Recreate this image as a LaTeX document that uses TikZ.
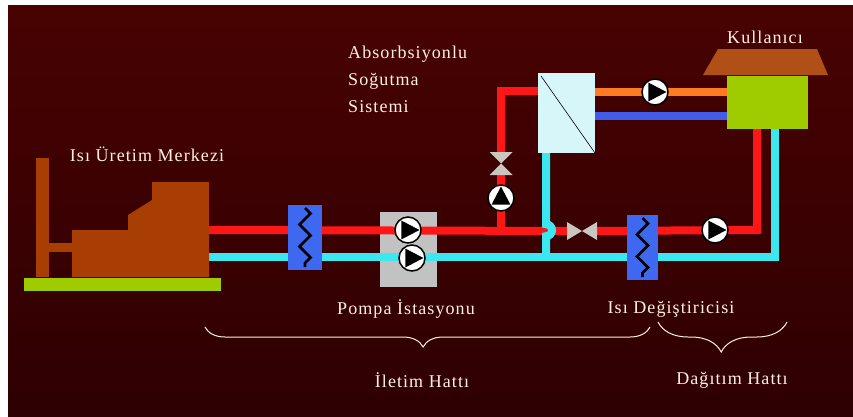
\documentclass[tikz,border=0pt]{standalone}
\usepackage{fontspec}
\setmainfont{Liberation Serif}[LetterSpace=6]
\usetikzlibrary{calc,decorations.pathreplacing,decorations.pathmorphing}
\definecolor{bgtop}{RGB}{72,2,2}
\definecolor{bgbot}{RGB}{46,0,2}
\definecolor{cream}{RGB}{255,240,226}
\definecolor{brick}{RGB}{168,62,4}
\definecolor{roofbrown}{RGB}{176,80,22}
\definecolor{lime}{RGB}{158,204,0}
\definecolor{hotred}{RGB}{255,22,22}
\definecolor{coldcyan}{RGB}{60,232,240}
\definecolor{hxblue}{RGB}{62,104,240}
\definecolor{stgray}{RGB}{194,194,194}
\definecolor{valvegray}{RGB}{200,198,190}
\definecolor{icewhite}{RGB}{214,246,250}
\definecolor{warmorange}{RGB}{255,122,32}
\definecolor{coolblue}{RGB}{64,92,232}
\pgfdeclarelayer{bg}
\pgfdeclarelayer{pipes}
\pgfsetlayers{bg,pipes,main}

\begin{document}
\begin{tikzpicture}[x=1pt,y=-1pt,
pipe/.style={line width=8pt},
hot/.style={pipe,draw=hotred},
cold/.style={pipe,draw=coldcyan},
hx/.style={fill=hxblue,minimum width=#1,minimum height=65pt,inner sep=0pt,
path picture={\draw[black,line width=2.6pt,decorate,
decoration={zigzag,segment length=22pt,amplitude=5.5pt}]
([yshift=-3pt]path picture bounding box.north)--([yshift=3pt]path picture bounding box.south);}},
pump/.style={circle,draw=black,line width=1.5pt,fill=white,minimum size=26pt,inner sep=0pt,
path picture={\fill[black]($(path picture bounding box.center)+(#1:11.5pt)$)
--($(path picture bounding box.center)+(#1+125:11.5pt)$)
--($(path picture bounding box.center)+(#1+235:11.5pt)$)--cycle;}},
pump/.default=0,
valveh/.style={minimum width=30pt,minimum height=18pt,inner sep=0pt,
path picture={\fill[valvegray](path picture bounding box.north west)--(path picture bounding box.center)
--(path picture bounding box.south west)--cycle;
\fill[valvegray](path picture bounding box.north east)--(path picture bounding box.center)
--(path picture bounding box.south east)--cycle;}},
valvev/.style={minimum width=23pt,minimum height=23pt,inner sep=0pt,
path picture={\fill[valvegray](path picture bounding box.north west)--(path picture bounding box.center)
--(path picture bounding box.north east)--cycle;
\fill[valvegray](path picture bounding box.south west)--(path picture bounding box.center)
--(path picture bounding box.south east)--cycle;}},
lbl/.style={text=cream,font=\fontsize{18}{27}\selectfont,inner sep=0pt,anchor=base},
curly/.style={draw=cream,line width=1pt,decorate,decoration={brace,mirror,amplitude=#1,aspect=.49}}]
\useasboundingbox (0,0) rectangle (853,416);
\begin{pgfonlayer}{bg}
\fill[white] (0,0) rectangle (853,416);
\shade[top color=bgtop,bottom color=bgbot] (8,5) rectangle (853,416);
% pump station housing sits under the pipes
\node[fill=stgray,minimum width=57pt,minimum height=75pt,inner sep=0pt] (pumpst) at (408.5,249.5) {};
\end{pgfonlayer}

% heat plant
\fill[brick] (36,158) rectangle (49,277);
\fill[brick] (49,243) rectangle (72,252);
\fill[brick] (72,277)--(72,230)--(128,230)--(128,215)--(152,200)--(152,182)--(209,182)--(209,277)--cycle;
\fill[lime] (24,278) rectangle (221,291);
\coordinate (plantR) at (209,230);
\coordinate (plantC) at (209,257);

% transmission line
\node[hx=34pt] (hx1) at (305,237.5) {};
\node[pump] (p1) at (408,230) {};
\node[pump] (p2) at (412,258) {};

% absorption chiller branch
\node[valvev] (valveA) at (501,163.5) {};
\node[pump=90] (pumpA) at (501,198) {};
\node[fill=icewhite,minimum width=57pt,minimum height=80pt,inner sep=0pt,
path picture={\draw[black,line width=.6pt]([shift={(3pt,-3pt)}]path picture bounding box.north west)
--(path picture bounding box.south east);}] (absorber) at (566.5,113) {};
\coordinate (tee) at (501,230);
\coordinate (elbowA) at (501,91);
\coordinate (dropC) at (546,257);

% distribution side
\node[valveh] (valveB) at (582,231) {};
\node[hx=31pt] (hx2) at (642.5,247.5) {};
\node[pump] (pumpB) at (715,230) {};
\node[pump] (pumpC) at (655,92) {};
\fill[roofbrown] (703,75)--(718,49)--(817,49)--(828,75)--cycle;
\node[fill=lime,minimum width=81pt,minimum height=53pt,inner sep=0pt] (user) at (767.5,102.5) {};
\coordinate (elbowR) at (757,230);
\coordinate (elbowC) at (775,257);

\begin{pgfonlayer}{pipes}
\draw[cold] (plantC)--(elbowC)--(elbowC |- user.south);
\draw[hot] (plantR)--(valveB);
\draw[hot] (valveB)--(elbowR)--(elbowR |- user.south);
\draw[hot] (tee)--(valveA);
\draw[hot] (valveA)--(elbowA)--(absorber.west |- elbowA);
\draw[cold] (absorber.south -| dropC)--++(0,71) arc[start angle=90,end angle=-90,radius=6pt]--(dropC);
\draw[pipe,draw=warmorange] (absorber.east |- pumpC)--(user.west |- pumpC);
\draw[pipe,draw=coolblue] ([yshift=-3pt]absorber.east)--([yshift=-3pt]absorber.east -| user.west);
\end{pgfonlayer}

% labels
\node[lbl] (tplant) at (147,161) {Isı Üretim Merkezi};
\node[lbl,anchor=base west,align=left] (tabs) at (348,112) {Absorbsiyonlu\\Soğutma\\Sistemi};
\node[lbl] (tuser) at (765,43) {Kullanıcı};
\node[lbl] (tpump) at (406,314) {Pompa İstasyonu};
\node[lbl] (thx) at (671,313) {Isı Değiştiricisi};
\draw[curly=20pt] (205,327)--(650,327);
\draw[curly=30pt] (658,322)--(787,322);
\node[lbl] (tline) at (422,387) {İletim Hattı};
\node[lbl] (tdist) at (732,384) {Dağıtım Hattı};
\end{tikzpicture}
\end{document}
